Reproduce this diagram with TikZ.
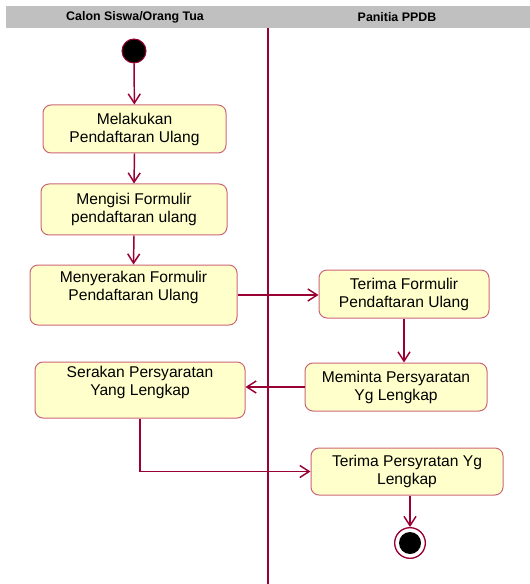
\documentclass[tikz,border=0pt]{standalone}
\usepackage{fontspec}
\setmainfont{Liberation Sans}
\usetikzlibrary{arrows.meta}

\definecolor{umlred}{RGB}{153,0,51}
\definecolor{umlbox}{RGB}{255,255,204}
\definecolor{umledge}{RGB}{204,102,119}
\definecolor{lanegray}{RGB}{192,192,192}

\tikzset{every picture/.style={line width=0.75pt}}
\tikzset{
  activity/.style={draw=umledge, fill=umlbox, rounded corners=6pt, align=center,
    inner sep=0pt, font=\fontsize{11.7}{13.5}\selectfont},
  flow/.style={draw=umlred, line width=1.1pt, -{Straight Barb[length=7pt,width=9pt,line width=1.1pt]}},
  lanetitle/.style={font=\bfseries\fontsize{9.3}{11}\selectfont, inner sep=0.75pt},
}

\begin{document}
\begin{tikzpicture}[x=0.75pt,y=0.75pt,yscale=-1,xscale=1]
\useasboundingbox (0,0) rectangle (530,584);

%Shape: Rectangle (swimlane header)
\fill[lanegray] (6,6) rectangle (530,28);
% Text Node
\node[lanetitle] (laneA) at (135,17) {Calon Siswa/Orang Tua};
% Text Node
\node[lanetitle] (laneB) at (397,17) {Panitia PPDB};
%Straight Lines (lane divider)
\draw[umlred, line width=0.8pt] (268,28) -- (268,584);

%Shape: Circle (start)
\node[circle, fill=black, draw=umlred, minimum size=18pt, inner sep=0pt] (start) at (134,51) {};

%Shape: Rectangle
\node[activity, minimum width=137.25pt, minimum height=36pt] (daftar) at (134.5,129)
  {Melakukan\\Pendaftaran Ulang};
%Shape: Rectangle
\node[activity, minimum width=139.5pt, minimum height=38.25pt] (isi) at (134,209.5)
  {Mengisi Formulir\\pendaftaran ulang};
%Shape: Rectangle
\node[activity, minimum width=155.25pt, minimum height=45pt] (serah) at (133.5,295)
  {Menyerakan Formulir\\Pendaftaran Ulang\\ };
%Shape: Rectangle
\node[activity, minimum width=127.5pt, minimum height=36pt] (terima) at (404,294)
  {Terima Formulir\\Pendaftaran Ulang};
%Shape: Rectangle
\node[activity, minimum width=136.5pt, minimum height=36pt] (minta) at (396,387)
  {Meminta Persyaratan\\Yg Lengkap};
%Shape: Rectangle
\node[activity, minimum width=157.5pt, minimum height=42pt] (syarat) at (140,390)
  {Serakan Persyaratan\\Yang Lengkap\\ };
%Shape: Rectangle
\node[activity, minimum width=144pt, minimum height=35.25pt] (lengkap) at (407,471.5)
  {Terima Persyratan Yg\\Lengkap};

%Shape: Circle (end)
\node[circle, fill=white, draw=umlred, line width=1pt, minimum size=23pt, inner sep=0pt] (stop) at (410,543) {};
\fill[black] (stop) circle[radius=8.25pt];

%Straight Lines
\draw[flow] (start) -- (daftar);
\draw[flow] (daftar.south) -- (isi.north);
\draw[flow] (isi.south) -- (serah.north);
\draw[flow] (serah.east) -- (serah.east -| terima.west);
\draw[flow] (terima.south) -- (terima.south |- minta.north);
\draw[flow] (minta.west) -- (minta.west -| syarat.east);
\draw[flow] (syarat.south) |- (lengkap.west);
\draw[flow] (lengkap.south -| stop) -- (stop.north);

\end{tikzpicture}
\end{document}
